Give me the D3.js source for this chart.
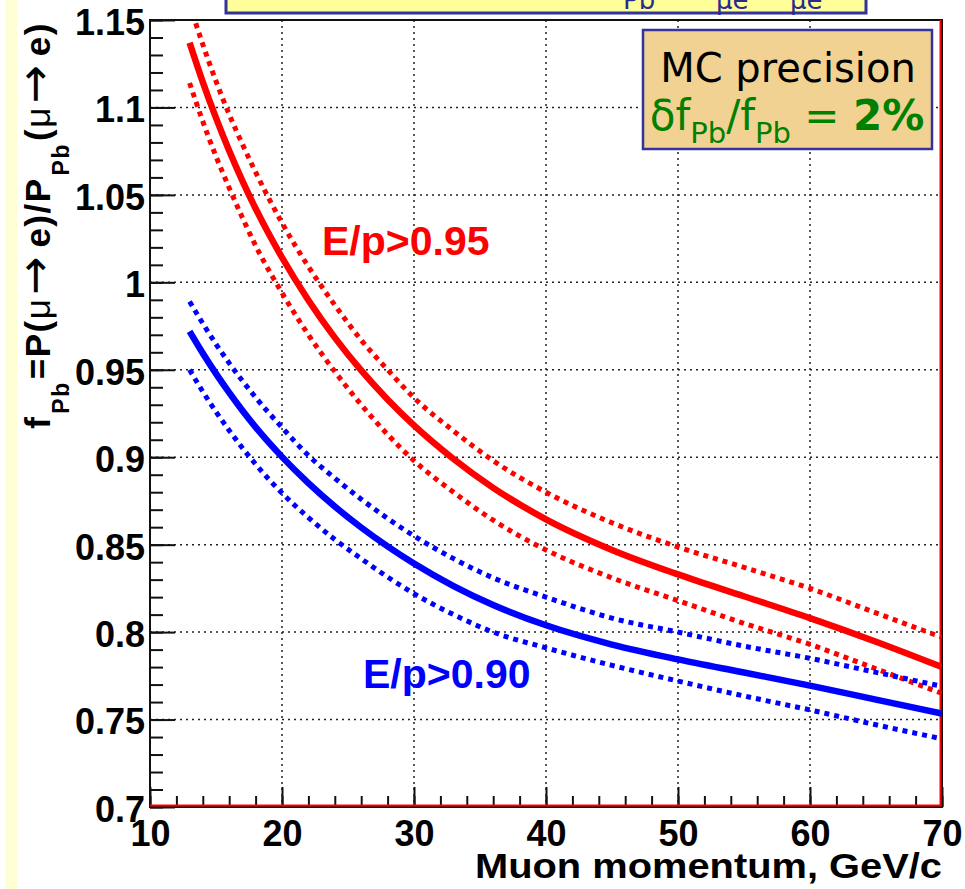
<!DOCTYPE html>
<html lang="en">
<head>
<meta charset="UTF-8">
<title>f_Pb vs muon momentum</title>
<script src="https://cdn.jsdelivr.net/npm/d3@7"></script>
<style>
    body { margin: 0; background: #fff; }
    svg { display: block; }
    .tick text { font-family: "Liberation Sans", Arial, sans-serif; font-weight: bold; font-size: 36px; fill: #000; }
    .domain { display: none; }
</style>
</head>
<body>
<svg width="965" height="889"></svg>
<script>
// momentum points (GeV/c)
const momentum = [13, 14, 15, 16, 17, 18, 20, 22, 24, 26, 28, 30, 33, 36, 40, 45, 50, 55, 60, 65, 70];

// E/p > 0.95
const red95 = [1.137, 1.1145, 1.094, 1.0752, 1.058, 1.0422, 1.0142, 0.9898, 0.9684, 0.9496, 0.933, 0.9182, 0.899, 0.8825, 0.8645, 0.847, 0.833, 0.8205, 0.808, 0.7945, 0.780];
const red95Up = [1.159, 1.136, 1.115, 1.096, 1.079, 1.063, 1.034, 1.009, 0.987, 0.967, 0.950, 0.934, 0.915, 0.898, 0.880, 0.8625, 0.8487, 0.837, 0.825, 0.811, 0.797];
const red95Lo = [1.114, 1.092, 1.072, 1.054, 1.037, 1.021, 0.994, 0.970, 0.949, 0.930, 0.913, 0.898, 0.880, 0.864, 0.847, 0.831, 0.818, 0.805, 0.793, 0.779, 0.765];

// E/p > 0.90
const blue90 = [0.972, 0.9595, 0.9478, 0.9369, 0.9267, 0.9172, 0.9002, 0.8852, 0.8718, 0.8598, 0.849, 0.8392, 0.8263, 0.8155, 0.8039, 0.7929, 0.7844, 0.7769, 0.7694, 0.7614, 0.7534];
const blue90Up = [0.989, 0.9765, 0.9647, 0.9538, 0.9437, 0.9342, 0.917, 0.901, 0.888, 0.876, 0.865, 0.855, 0.842, 0.831, 0.820, 0.808, 0.800, 0.792, 0.785, 0.777, 0.769];
const blue90Lo = [0.950, 0.9375, 0.926, 0.9153, 0.9053, 0.896, 0.8795, 0.8655, 0.853, 0.842, 0.8315, 0.822, 0.810, 0.800, 0.791, 0.781, 0.772, 0.7635, 0.7555, 0.747, 0.739];

const xTicks = [10, 20, 30, 40, 50, 60, 70];
const yTicks = [0.7, 0.75, 0.8, 0.85, 0.9, 0.95, 1, 1.05, 1.1, 1.15];

const svg = d3.select("svg");
const pL = 150, pR = 942, pT = 20, pB = 807;

const x = d3.scaleLinear().domain([10, 70]).range([pL, pR]);
const y = d3.scaleLinear().domain([0.7, 1.15]).range([pB, pT]);

// yellow strip on the left of the slide
svg.append("rect").attr("x", 5).attr("y", 0).attr("width", 12).attr("height", 889).attr("fill", "#fffdd2");

// title box, cut off at the top
const tb = svg.append("g");
tb.append("rect").attr("x", 226).attr("y", -20).attr("width", 640).attr("height", 33)
    .attr("fill", "#ffff99").attr("stroke", "#33339a").attr("stroke-width", 3);
const titleSubs = [["Pb", 623], ["μe", 716], ["μe", 790]];
tb.selectAll("text").data(titleSubs).enter().append("text")
    .attr("x", d => d[1]).attr("y", 9)
    .style("font-family", "DejaVu Sans, Verdana, sans-serif").style("font-size", "26px")
    .attr("fill", "#2b2b8c").text(d => d[0]);

// grid
const grid = svg.append("g").attr("stroke", "#222").attr("stroke-width", 1.5).attr("stroke-dasharray", "2,4");
grid.selectAll(".gx").data(xTicks.slice(1, -1)).enter().append("line")
    .attr("x1", d => x(d)).attr("x2", d => x(d)).attr("y1", pT).attr("y2", pB);
grid.selectAll(".gy").data(yTicks.slice(1, -1)).enter().append("line")
    .attr("y1", d => y(d)).attr("y2", d => y(d)).attr("x1", pL).attr("x2", pR);

// ticks
const yMinor = d3.range(0.7, 1.1501, 0.01).map(v => +v.toFixed(2));
const xMinor = d3.range(10, 70.01, 2);
svg.append("g").attr("transform", `translate(${pL},0)`)
    .call(d3.axisRight(y).tickValues(yMinor).tickSize(13).tickFormat(""))
    .selectAll("line").attr("stroke", "#111").attr("stroke-width", 2);
svg.append("g").attr("transform", `translate(${pL},0)`)
    .call(d3.axisRight(y).tickValues(yTicks).tickSize(25).tickFormat(""))
    .selectAll("line").attr("stroke", "#111").attr("stroke-width", 2);
svg.append("g").attr("transform", `translate(0,${pB})`)
    .call(d3.axisTop(x).tickValues(xMinor).tickSize(11).tickFormat(""))
    .selectAll("line").attr("stroke", "#111").attr("stroke-width", 2);
svg.append("g").attr("transform", `translate(0,${pB})`)
    .call(d3.axisTop(x).tickValues(xTicks).tickSize(20).tickFormat(""))
    .selectAll("line").attr("stroke", "#111").attr("stroke-width", 2);

// tick labels
const yl = svg.append("g").attr("transform", `translate(${pL},0)`)
    .call(d3.axisLeft(y).tickValues(yTicks).tickSize(0).tickPadding(5).tickFormat(d => d3.format("")(d)));
yl.selectAll("text").attr("dy", "0.4em");
const xl = svg.append("g").attr("transform", `translate(0,${pB})`)
    .call(d3.axisBottom(x).tickValues(xTicks).tickSize(0).tickFormat(d3.format("d")));
xl.selectAll("text").attr("y", 39).attr("dy", null);

// frame
svg.append("rect").attr("x", pL).attr("y", pT).attr("width", pR - pL).attr("height", pB - pT)
    .attr("fill", "none").attr("stroke", "#111").attr("stroke-width", 2);
svg.append("path").attr("d", `M${pL},${pB - 1.5}H${pR - 1.5}V${pT}`)
    .attr("fill", "none").attr("stroke", "#ff0000").attr("stroke-width", 2);

// curves
svg.append("clipPath").attr("id", "clip").append("rect")
    .attr("x", pL).attr("y", pT + 1).attr("width", pR - pL).attr("height", pB - pT);
const plot = svg.append("g").attr("clip-path", "url(#clip)");
const line = d3.line().x((d, i) => x(momentum[i])).y(d => y(d)).curve(d3.curveMonotoneX);
const series = [
    [red95Up, "#ff0000", true], [red95Lo, "#ff0000", true],
    [blue90Up, "#0000ff", true], [blue90Lo, "#0000ff", true],
    [red95, "#ff0000", false], [blue90, "#0000ff", false]
];
series.forEach(([vals, col, dotted]) => {
    plot.append("path").attr("d", line(vals)).attr("fill", "none").attr("stroke", col)
        .attr("stroke-width", dotted ? 5 : 6.5)
        .attr("stroke-dasharray", dotted ? "5,5" : null);
});

// curve labels
svg.append("text").attr("x", 322).attr("y", 255).attr("fill", "#ff0000")
    .style("font-family", "Liberation Sans, Arial, sans-serif").style("font-weight", "bold").style("font-size", "41px")
    .text("E/p>0.95");
svg.append("text").attr("x", 363).attr("y", 688).attr("fill", "#0000ff")
    .style("font-family", "Liberation Sans, Arial, sans-serif").style("font-weight", "bold").style("font-size", "41px")
    .text("E/p>0.90");

// MC precision box
svg.append("rect").attr("x", 643).attr("y", 30).attr("width", 289).attr("height", 119)
    .attr("fill", "#f2d293").attr("stroke", "#33339a").attr("stroke-width", 2.5);
svg.append("text").attr("x", 788).attr("y", 82).attr("text-anchor", "middle")
    .style("font-family", "DejaVu Sans, Verdana, sans-serif").style("font-size", "40px").attr("fill", "#000")
    .text("MC precision");
const mc = svg.append("text").attr("x", 787).attr("y", 130).attr("text-anchor", "middle")
    .style("font-family", "DejaVu Sans, Verdana, sans-serif").style("font-size", "42px").attr("fill", "#008000");
mc.append("tspan").text("δf");
mc.append("tspan").attr("dy", 13).style("font-size", "29px").text("Pb");
mc.append("tspan").attr("dy", -13).text("/f");
mc.append("tspan").attr("dy", 13).style("font-size", "29px").text("Pb");
mc.append("tspan").attr("dy", -13).text(" = ");
mc.append("tspan").style("font-weight", "bold").text("2%");

// y axis title
const yt = svg.append("text").attr("transform", "translate(50,22) rotate(-90)").attr("text-anchor", "end")
    .style("font-family", "Liberation Sans, Arial, sans-serif").style("font-weight", "bold").style("font-size", "35px")
    .style("letter-spacing", "1.5px").attr("fill", "#000");
const arrowPart = () => {
    yt.append("tspan").style("font-weight", "normal").text("μ");
    yt.append("tspan").attr("dx", 3).style("font-family", "DejaVu Sans, sans-serif").style("font-weight", "normal")
        .style("font-size", "46px").text("→");
    yt.append("tspan").attr("dx", 7).text("e)");
};
yt.append("tspan").text("f");
yt.append("tspan").attr("dx", 2).attr("dy", 19).style("font-size", "23px").text("Pb");
yt.append("tspan").attr("dx", 2).attr("dy", -19).text("=P(");
arrowPart();
yt.append("tspan").text("/P");
yt.append("tspan").attr("dx", 2).attr("dy", 19).style("font-size", "23px").text("Pb");
yt.append("tspan").attr("dx", 2).attr("dy", -19).text("(");
arrowPart();

// x axis title
svg.append("text").attr("x", pR).attr("y", 878).attr("text-anchor", "end")
    .attr("textLength", 467).attr("lengthAdjust", "spacingAndGlyphs")
    .style("font-family", "Liberation Sans, Arial, sans-serif").style("font-weight", "bold").style("font-size", "35px")
    .text("Muon momentum, GeV/c");
</script>
</body>
</html>
